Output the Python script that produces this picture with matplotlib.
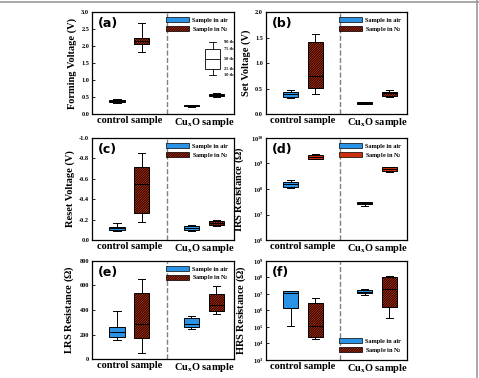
import matplotlib
matplotlib.use('Agg')
import matplotlib.pyplot as plt
from matplotlib.patches import Patch
from matplotlib.lines import Line2D
from matplotlib.ticker import LogFormatterMathtext, NullLocator, FormatStrFormatter

plt.rcParams['font.family'] = ['Liberation Serif', 'DejaVu Serif']
plt.rcParams['font.weight'] = 'bold'
plt.rcParams['mathtext.fontset'] = 'custom'
plt.rcParams['mathtext.rm'] = 'Liberation Serif:bold'
plt.rcParams['mathtext.it'] = 'Liberation Serif:bold'
plt.rcParams['mathtext.bf'] = 'Liberation Serif:bold'
plt.rcParams['axes.unicode_minus'] = False
plt.rcParams['hatch.linewidth'] = 0.6

# Box stats (whislo, q1, med, q3, whishi), order:
# control-air, control-N2, CuxO-air, CuxO-N2
group_labels = ['control sample', r'Cu$_\mathrm{x}$O sample']
series_labels = ['Sample in air', r'Sample in N$_2$']

forming_v = [(0.33, 0.37, 0.40, 0.42, 0.45),
             (1.82, 2.06, 2.15, 2.25, 2.67),
             (0.21, 0.23, 0.25, 0.26, 0.27),
             (0.50, 0.53, 0.56, 0.59, 0.62)]
set_v = [(0.31, 0.34, 0.39, 0.44, 0.47),
         (0.39, 0.52, 0.74, 1.41, 1.57),
         (0.20, 0.20, 0.22, 0.235, 0.24),
         (0.34, 0.36, 0.41, 0.44, 0.47)]
reset_v = [(-0.085, -0.099, -0.115, -0.128, -0.165),
           (-0.18, -0.26, -0.55, -0.72, -0.85),
           (-0.085, -0.099, -0.12, -0.135, -0.15),
           (-0.14, -0.145, -0.165, -0.184, -0.20)]
irs_r = [(1.12e8, 1.23e8, 1.51e8, 1.9e8, 2.19e8),
         (1.45e9, 1.51e9, 1.82e9, 2.14e9, 2.45e9),
         (2.1e7, 2.57e7, 2.8e7, 3.0e7, 3.16e7),
         (4.7e8, 5.25e8, 6.0e8, 7.1e8, 7.6e8)]
lrs_r = [(153, 176, 221, 258, 392),
         (53, 171, 289, 539, 655),
         (247, 263, 289, 332, 353),
         (368, 392, 439, 532, 592)]
hrs_r = [(1.15e5, 1.3e6, 1.2e7, 1.45e7, 1.45e7),
         (1.74e4, 2.45e4, 1.2e5, 2.8e6, 5.75e6),
         (9.1e6, 1.05e7, 1.3e7, 1.65e7, 2.1e7),
         (3.5e5, 1.65e6, 1.85e7, 1.1e8, 1.25e8)]

# percentile key drawn inside panel (a)
key_box = (1.14, 1.32, 1.62, 1.91, 2.11)
key_labels = ['10 th', '25 th', '50 th', '75 th', '90 th']

irs_ticks = [1e6, 1e7, 1e8, 1e9, 1e10]
hrs_ticks = [1e3, 1e4, 1e5, 1e6, 1e7, 1e8, 1e9]

blue = '#2a93e6'
red = '#cc2e0c'
hatch = '/' * 14
positions = [1, 2, 4, 5]

panels = [
    dict(data=forming_v, ylabel='Forming Voltage (V)', ylim=(0, 3.0),
         yticks=[0, 0.5, 1.0, 1.5, 2.0, 2.5, 3.0], fmt='%.1f', tag='(a)',
         rect=[0.192, 0.698, 0.296, 0.270], loc='upper right', hatch=True),
    dict(data=set_v, ylabel='Set Voltage (V)', ylim=(0, 2.0),
         yticks=[0, 0.5, 1.0, 1.5, 2.0], fmt='%.1f', tag='(b)',
         rect=[0.555, 0.698, 0.294, 0.270], loc='upper right', hatch=True),
    dict(data=reset_v, ylabel='Reset Voltage (V)', ylim=(0, -1.0),
         yticks=[0, -0.2, -0.4, -0.6, -0.8, -1.0], fmt='%.1f', tag='(c)',
         rect=[0.192, 0.365, 0.296, 0.270], loc='upper right', hatch=True),
    dict(data=irs_r, ylabel=r'IRS Resistance ($\Omega$)', ylim=(1e6, 1e10),
         log=True, yticks=irs_ticks, tag='(d)',
         rect=[0.555, 0.365, 0.294, 0.270], loc='upper right', hatch=False),
    dict(data=lrs_r, ylabel=r'LRS Resistance ($\Omega$)', ylim=(0, 800),
         yticks=[0, 200, 400, 600, 800], fmt='%d', tag='(e)',
         rect=[0.192, 0.050, 0.296, 0.260], loc='upper right', hatch=True),
    dict(data=hrs_r, ylabel=r'HRS Resistance ($\Omega$)', ylim=(1e3, 1e9),
         log=True, yticks=hrs_ticks, tag='(f)',
         rect=[0.555, 0.048, 0.294, 0.262], loc='lower right', hatch=True),
]


def make_stats(vals):
    lo, q1, med, q3, hi = vals
    return dict(whislo=lo, q1=q1, med=med, q3=q3, whishi=hi, fliers=[])


fig = plt.figure(figsize=(4.79, 3.78), dpi=100)

for p in panels:
    ax = fig.add_axes(p['rect'])
    if p.get('log'):
        ax.set_yscale('log')
    stats = [make_stats(v) for v in p['data']]
    bp = ax.bxp(stats, positions=positions, widths=0.62, capwidths=0.3,
                patch_artist=True, showfliers=False, manage_ticks=False,
                boxprops=dict(linewidth=0.7, edgecolor='black'),
                medianprops=dict(color='black', linewidth=0.7),
                whiskerprops=dict(color='black', linewidth=0.7),
                capprops=dict(color='black', linewidth=0.7))
    for i, box in enumerate(bp['boxes']):
        if i % 2 == 0:
            box.set_facecolor(blue)
        else:
            box.set_facecolor(red)
            if p['hatch']:
                box.set_hatch(hatch)

    if p['tag'] == '(a)':
        ax.bxp([make_stats(key_box)], positions=[4.85], widths=0.62,
               capwidths=0.3, patch_artist=True, showfliers=False,
               manage_ticks=False,
               boxprops=dict(linewidth=0.6, edgecolor='black', facecolor='white'),
               medianprops=dict(color='black', linewidth=0.6),
               whiskerprops=dict(color='black', linewidth=0.6),
               capprops=dict(color='black', linewidth=0.6))
        for val, lab in zip(sorted(key_box), key_labels):
            ax.text(5.3, val, lab, fontsize=3.2, fontweight='bold',
                    ha='left', va='center')

    ax.axvline(3.0, color='gray', linestyle='--', linewidth=1.0)
    ax.set_xlim(0, 5.7)
    ax.set_xticks([1.5, 4.5])
    ax.set_xticklabels(group_labels, fontsize=7.5, fontweight='bold')
    ax.tick_params(axis='x', length=0, pad=1.5)
    ax.tick_params(axis='y', direction='in', length=2, width=0.6,
                   labelsize=4.5, pad=2)
    ax.set_yticks(p['yticks'])
    if p.get('log'):
        ax.yaxis.set_major_formatter(LogFormatterMathtext())
        ax.yaxis.set_minor_locator(NullLocator())
    else:
        ax.yaxis.set_major_formatter(FormatStrFormatter(p['fmt']))
    ax.set_ylim(*p['ylim'])
    ax.set_ylabel(p['ylabel'], fontsize=7.5, fontweight='bold', labelpad=3)
    for s in ax.spines.values():
        s.set_linewidth(0.9)

    ax.text(0.045, 0.95, p['tag'], transform=ax.transAxes, ha='left', va='top',
            fontsize=9, fontweight='bold', family='DejaVu Sans')

    handles = [Patch(facecolor=blue, edgecolor='black', linewidth=0.5),
               Patch(facecolor=red, edgecolor='black', linewidth=0.5,
                     hatch=hatch if p['hatch'] else None)]
    ax.legend(handles, series_labels, loc=p['loc'], frameon=False,
              fontsize=4.5, handlelength=3.6, handleheight=0.9,
              handletextpad=0.5, labelspacing=0.3, borderaxespad=0.4)

# thin gray frame lines of the page
fig.add_artist(Line2D([0, 1], [0.995, 0.995], transform=fig.transFigure,
                      color='#999999', linewidth=1.2))
fig.add_artist(Line2D([0.996, 0.996], [0, 1], transform=fig.transFigure,
                      color='#999999', linewidth=1.2))

fig.savefig('out.png', dpi=100)
